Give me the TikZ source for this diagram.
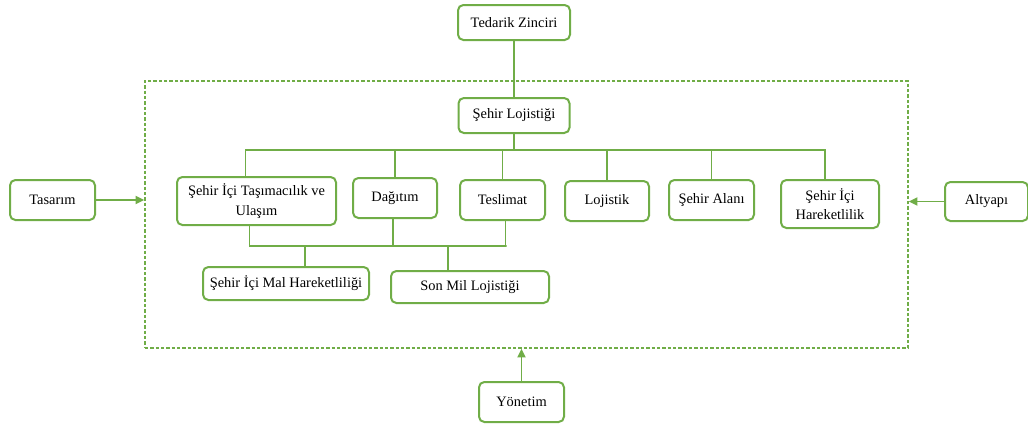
\documentclass[tikz,border=0pt]{standalone}
\usepackage{fontspec}
\setmainfont{Liberation Serif}
\usetikzlibrary{arrows.meta}
\definecolor{yesil}{RGB}{112,173,71}

\begin{document}
\begin{tikzpicture}[x=0.75pt, y=-0.75pt, every node/.style={font=\fontsize{10.8}{14.5}\selectfont}, >={Triangle[length=6.5pt, width=6pt]},
	bx/.style={draw=yesil, line width=1.5pt, rounded corners=4pt, fill=white, align=center, inner sep=2pt},
	ln/.style={draw=yesil, line width=1.3pt}]
	\useasboundingbox (0,0) rectangle (1028,425);
	\node[draw=yesil, line width=1.2pt, dash pattern=on 2.5pt off 1.5pt, minimum width=572.25pt, minimum height=200.25pt, inner sep=0pt] (cerceve) at (526.5,214.5) {};
	\node[bx, minimum width=84pt, minimum height=26.25pt] (tedarik) at (514,22.5) {Tedarik Zinciri};
	\node[bx, minimum width=83.25pt, minimum height=26.25pt] (lojistigi) at (514,115.5) {Şehir Lojistiği};
	\node[bx, minimum width=119.25pt, minimum height=36pt] (tasima) at (256.5,201) {Şehir İçi Taşımacılık ve\\Ulaşım};
	\node[bx, minimum width=63pt, minimum height=30pt] (dagitim) at (395,198) {Dağıtım};
	\node[bx, minimum width=63.75pt, minimum height=30pt] (teslimat) at (502.5,200) {Teslimat};
	\node[bx, minimum width=63pt, minimum height=30pt] (lojistik) at (607,201) {Lojistik};
	\node[bx, minimum width=63.75pt, minimum height=30pt] (alan) at (711.5,200) {Şehir Alanı};
	\node[bx, minimum width=73.5pt, minimum height=36pt] (hareket) at (830,204) {Şehir İçi\\Hareketlilik};
	\node[bx, minimum width=124.5pt, minimum height=24.75pt] (mal) at (286,283.5) {Şehir İçi Mal Hareketliliği};
	\node[bx, minimum width=118.5pt, minimum height=24pt] (sonmil) at (470,287) {Son Mil Lojistiği};
	\node[bx, minimum width=63.75pt, minimum height=30pt] (tasarim) at (52.5,200) {Tasarım};
	\node[bx, minimum width=62.25pt, minimum height=29.25pt] (altyapi) at (986.5,201.5) {Altyapı};
	\node[bx, minimum width=63.75pt, minimum height=30pt] (yonetim) at (521.5,402) {Yönetim};
	\coordinate (ustbus) at (514,150);
	\coordinate (altbus) at (400,246);
	% ust agac
	\draw[ln] (tedarik) -- (lojistigi);
	\draw[ln] (lojistigi) -- (ustbus);
	\draw[ln] ([xshift=-8.25pt]tasima.north) |- ([xshift=-3.75pt]hareket.north |- ustbus) -- ([xshift=-3.75pt]hareket.north);
	\foreach \n in {dagitim, teslimat, lojistik, alan} {\draw[ln] (\n.north) -- (\n.north |- ustbus);}
	% alt agac
	\draw[ln] ([xshift=-5.25pt]tasima.south) |- ([xshift=3pt]teslimat.south |- altbus) -- ([xshift=2.25pt]teslimat.south |- altbus) -- ([xshift=2.25pt]teslimat.south);
	\draw[ln] ([xshift=-1.5pt]dagitim.south) -- ([xshift=-1.5pt]dagitim.south |- altbus);
	\draw[ln] ([xshift=14.25pt]mal.north |- altbus) -- ([xshift=14.25pt]mal.north);
	\draw[ln] ([xshift=-16.5pt]sonmil.north |- altbus) -- ([xshift=-16.5pt]sonmil.north);
	% dis etkenler
	\draw[ln, ->] (tasarim) -- (tasarim -| cerceve.west);
	\draw[ln, ->] (altyapi) -- (altyapi -| cerceve.east);
	\draw[ln, ->] (yonetim) -- (yonetim |- cerceve.south);
\end{tikzpicture}
\end{document}
